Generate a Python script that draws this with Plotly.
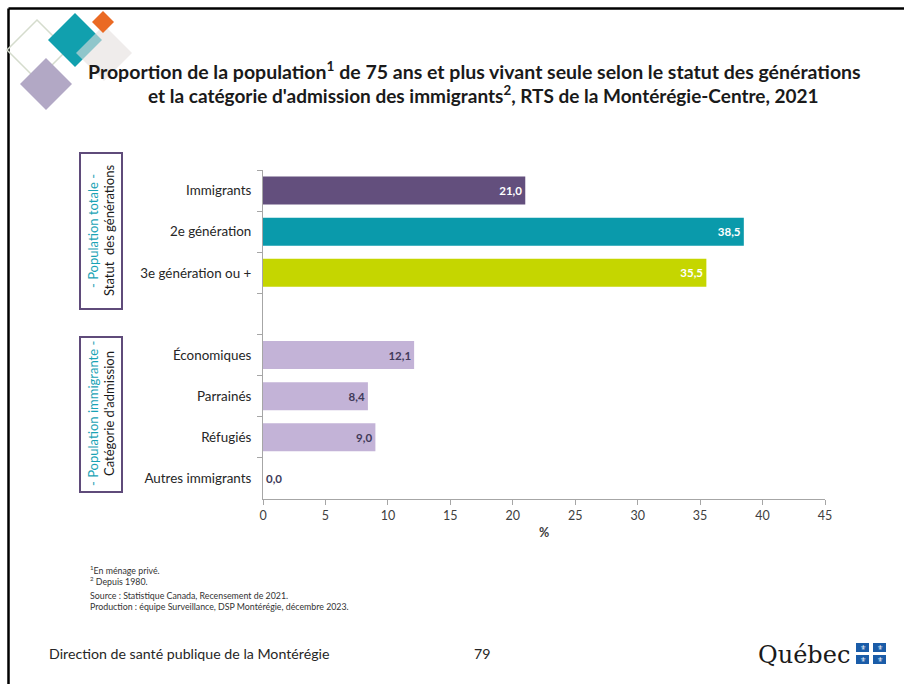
import plotly.graph_objects as go

W, H = 904, 684

# Data
categories = ["Immigrants", "2e génération", "3e génération ou +", " ",
              "Économiques", "Parrainés", "Réfugiés", "Autres immigrants"]
values = [21.0, 38.5, 35.5, None, 12.1, 8.4, 9.0, 0.0]
x_ticks = [0, 5, 10, 15, 20, 25, 30, 35, 40, 45]

bar_colors = ["#634f7d", "#0a9aab", "#c5d600", "#ffffff",
              "#c3b3d7", "#c3b3d7", "#c3b3d7", "#c3b3d7"]
label_colors = ["white", "white", "white", "white",
                "#403a5a", "#403a5a", "#403a5a", "#403a5a"]

FONT = "Lato"


def px(x):
    return x / W


def py(y):
    return 1 - y / H


def diamond(cx, cy, r):
    return (f"M {px(cx)} {py(cy - r)} L {px(cx + r)} {py(cy)} "
            f"L {px(cx)} {py(cy + r)} L {px(cx - r)} {py(cy)} Z")


labels = ["" if v is None else "<b>" + f"{v:.1f}".replace(".", ",") + "</b>" for v in values]
positions = ["outside" if (v is not None and v == 0) else "inside" for v in values]

fig = go.Figure()
fig.add_trace(go.Bar(
    y=categories, x=values, orientation="h",
    marker=dict(color=bar_colors, line=dict(width=0)),
    text=labels, textposition=positions, insidetextanchor="end",
    textfont=dict(family=FONT, size=11.5, color=label_colors),
    outsidetextfont=dict(family=FONT, size=11.5, color="#403a5a"),
    cliponaxis=False, hoverinfo="skip",
))

shapes = []
# slide frame (top and left edges)
shapes.append(dict(type="line", xref="paper", yref="paper", x0=px(8.5), x1=1,
                   y0=py(8.5), y1=py(8.5), line=dict(color="black", width=2.5)))
shapes.append(dict(type="line", xref="paper", yref="paper", x0=px(8.5), x1=px(8.5),
                   y0=py(8.5), y1=0, line=dict(color="black", width=2.5)))
# decorative diamonds
shapes.append(dict(type="path", xref="paper", yref="paper", path=diamond(37, 50, 30),
                   line=dict(color="#d5dccd", width=1.5), fillcolor="rgba(0,0,0,0)"))
shapes.append(dict(type="path", xref="paper", yref="paper", path=diamond(46, 84, 26),
                   line=dict(width=0), fillcolor="#b2a8c5"))
shapes.append(dict(type="path", xref="paper", yref="paper", path=diamond(75, 40, 27),
                   line=dict(width=0), fillcolor="#11a0ae"))
shapes.append(dict(type="path", xref="paper", yref="paper", path=diamond(104, 53, 28),
                   line=dict(width=0), fillcolor="rgba(228,224,222,0.6)"))
shapes.append(dict(type="path", xref="paper", yref="paper", path=diamond(103, 22, 11),
                   line=dict(width=0), fillcolor="#ea6a24"))
# group boxes
for y0, y1 in [(153, 309), (337, 492)]:
    shapes.append(dict(type="rect", xref="paper", yref="paper",
                       x0=px(80), x1=px(122), y0=py(y0), y1=py(y1),
                       line=dict(color="#5f4b7a", width=2)))
# Québec flag squares
flag_cells = [(856, 643), (873, 643), (856, 655), (873, 655)]
for fx, fy in flag_cells:
    shapes.append(dict(type="rect", xref="paper", yref="paper",
                       x0=px(fx), x1=px(fx + 13), y0=py(fy), y1=py(fy + 9),
                       line=dict(width=0), fillcolor="#1a5ca8"))

annotations = []


def note(x, y, text, size, color="#262626", xanchor="left", bold=False, angle=0, font=FONT):
    annotations.append(dict(
        xref="paper", yref="paper", x=px(x), y=py(y), text=f"<b>{text}</b>" if bold else text,
        showarrow=False, xanchor=xanchor, yanchor="middle", textangle=angle,
        font=dict(family=font, size=size, color=color)))


note(474, 70, "Proportion de la population<sup>1</sup> de 75 ans et plus vivant seule selon le statut des générations",
     19.5, "#1a1a1a", "center", True)
note(483, 95, "et la catégorie d'admission des immigrants<sup>2</sup>, RTS de la Montérégie-Centre, 2021",
     19, "#1a1a1a", "center", True)

note(93, 231, "- Population totale -", 13, "#1aa3b5", "center", False, -90)
note(109, 231, "Statut  des générations", 13, "#1a1a1a", "center", False, -90)
note(93, 414, "- Population immigrante -", 13, "#1aa3b5", "center", False, -90)
note(109, 414, "Catégorie d'admission", 13, "#1a1a1a", "center", False, -90)

note(88, 570, "<sup>1</sup>En ménage privé.", 8.8, "#333333")
note(88, 581, "<sup>2</sup> Depuis 1980.", 8.8, "#333333")
note(88, 595, "Source : Statistique Canada, Recensement de 2021.", 8.8, "#333333")
note(88, 606, "Production : équipe Surveillance, DSP Montérégie, décembre 2023.", 8.8, "#333333")

note(47, 653, "Direction de santé publique de la Montérégie", 14.2, "#262626")
note(482, 653, "79", 14.2, "#262626", "center")
note(756, 655, "Québec", 24, "#1a1a1a", "left", False, 0, "DejaVu Serif")
for fx, fy in flag_cells:
    note(fx + 6.5, fy + 4.5, "⚜", 7, "white", "center", False, 0, "DejaVu Sans")

fig.update_layout(
    width=W, height=H,
    margin=dict(l=0, r=0, t=0, b=0, autoexpand=False),
    paper_bgcolor="white", plot_bgcolor="white",
    showlegend=False,
    hovermode=False,
    bargap=0.32,
    font=dict(family=FONT, color="#404040"),
    uniformtext=dict(minsize=11, mode="show"),
    shapes=shapes,
    annotations=annotations,
    xaxis=dict(
        domain=[px(263), px(825)], range=[0, 45], automargin=False,
        tickmode="array", tickvals=x_ticks,
        showgrid=False, zeroline=False,
        showline=True, linecolor="#a6a6a6", linewidth=1,
        ticks="outside", ticklen=5, tickcolor="#a6a6a6",
        tickfont=dict(family=FONT, size=12.5, color="#404040"),
        title=dict(text="<b>%</b>", font=dict(family=FONT, size=12.5, color="#404040"), standoff=6),
    ),
    yaxis=dict(
        domain=[py(499), py(170)], automargin=False,
        type="category", categoryorder="array", categoryarray=categories,
        range=[len(categories) - 0.5, -0.5],
        showgrid=False, zeroline=False,
        showline=True, linecolor="#a6a6a6", linewidth=1,
        ticks="outside", ticklen=5, tickcolor="#a6a6a6", tickson="boundaries",
        ticklabelstandoff=8,
        tickfont=dict(family=FONT, size=13.4, color="#262626"),
    ),
)

# drop the browser's default body margin so the figure sits at the page origin
fig.write_html("out.html", config={"displayModeBar": False},
               post_script="document.body.style.margin='0';")
